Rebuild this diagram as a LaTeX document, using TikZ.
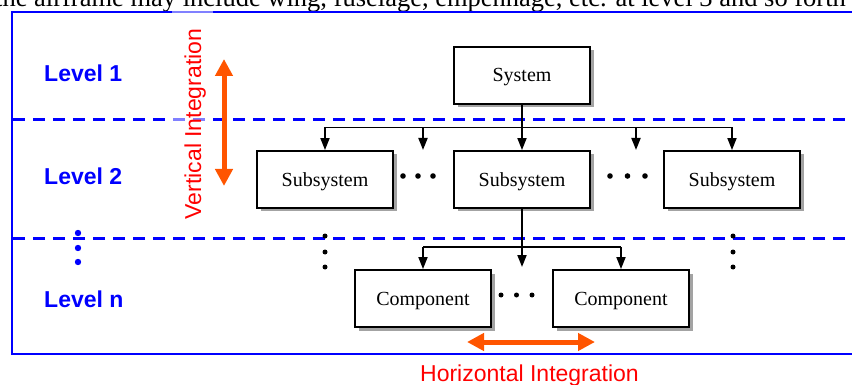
\documentclass[tikz,border=0pt]{standalone}
\usepackage{fontspec}
\setmainfont{Liberation Serif}
\newfontfamily\arialfont{Liberation Sans}
\usetikzlibrary{arrows.meta,shadows}

\definecolor{intorange}{RGB}{255,85,0}
\definecolor{intred}{RGB}{255,0,0}
\definecolor{lvlblue}{RGB}{0,0,255}

\tikzset{
  box/.style={draw=black, line width=1.9pt, fill=white,
    minimum width=136pt, minimum height=57pt, inner sep=0pt,
    text height=13pt, text depth=0pt,
    font=\fontsize{20}{24}\selectfont,
    drop shadow={shadow xshift=3.5pt, shadow yshift=-3.5pt, fill=black!45, opacity=0.8}},
  wire/.style={draw=black, line width=1.8pt},
  feed/.style={wire, -{Triangle[length=12pt,width=9pt]}},
  levelline/.style={draw=lvlblue, line width=3pt, dash pattern=on 12pt off 8pt},
  leveltext/.style={text=lvlblue, anchor=base west, inner sep=0pt,
    font=\arialfont\bfseries\fontsize{23}{27}\selectfont},
  integ/.style={draw=intorange, line width=5pt,
    {Triangle[length=17pt,width=17pt]}-{Triangle[length=17pt,width=17pt]}},
  integtext/.style={text=intred, inner sep=0pt,
    font=\arialfont\fontsize{23}{27}\selectfont},
  blackdot/.style={fill=black},
  bluedot/.style={fill=lvlblue}
}

\begin{document}
\begin{tikzpicture}[x=1pt,y=-1pt]
\useasboundingbox (0,0) rectangle (852,385);
\clip (0,0) rectangle (852,385);

% running text of the page above the figure
\node[anchor=base west, inner sep=0pt, font=\fontsize{26.5}{30}\selectfont] (caption) at (-5,7)
  {the airframe may include wing, fuselage, empennage, etc. at level 3 and so forth};

% frame and level separators
\draw[draw=lvlblue, line width=2.5pt] (12,12) rectangle (875,354);
\draw[levelline] (13,120) -- (852,120);
\draw[levelline] (13,238) -- (852,238);

% level labels
\node[leveltext] (lv1) at (44,82) {Level 1};
\node[leveltext] (lv2) at (44,185) {Level 2};
\node[leveltext] (lvn) at (44,307) {Level n};
\foreach \yy in {233,248,262} \fill[bluedot] (78,\yy) circle (3.2pt);

% vertical integration
\node[integtext, rotate=90, fill=white, fill opacity=0.5, text opacity=1,
      minimum width=220pt, minimum height=41pt] (vtext) at (192,120) {};
\node[integtext, rotate=90, anchor=base] (vlabel) at (201,124) {Vertical Integration};
\coordinate (vtop) at (224,59);
\coordinate (vbot) at (224,186);
\draw[integ] (vtop) -- (vbot);

% hierarchy boxes
\node[box] (sys)   at (522,75.5)  {System};
\node[box] (sub1)  at (325,179.5) {Subsystem};
\node[box] (sub2)  at (522,179.5) {Subsystem};
\node[box] (sub3)  at (732,179.5) {Subsystem};
\node[box] (comp1) at (423,298.5) {Component};
\node[box] (comp2) at (621,298.5) {Component};

% system to subsystems
\coordinate (bus1) at (0,127.5);
\coordinate (free1) at (423,150);
\coordinate (free2) at (636,150);
\draw[wire] (sub1.north |- bus1) -- (sub3.north |- bus1);
\draw[feed] (sys.south) -- (sub2.north);
\draw[feed] (sub1.north |- bus1) -- (sub1.north);
\draw[feed] (sub3.north |- bus1) -- (sub3.north);
\draw[feed] (free1 |- bus1) -- (free1);
\draw[feed] (free2 |- bus1) -- (free2);

% subsystem to components
\coordinate (bus2) at (0,247);
\coordinate (free3) at (sub2.south |- 0,267);
\draw[wire] (comp1.north |- bus2) -- (comp2.north |- bus2);
\draw[feed] (sub2.south) -- (free3);
\draw[feed] (comp1.north |- bus2) -- (comp1.north);
\draw[feed] (comp2.north |- bus2) -- (comp2.north);

% ellipses between boxes
\foreach \xx in {403,418,433} \fill[blackdot] (\xx,176) circle (2.8pt);
\foreach \xx in {610,627.5,645} \fill[blackdot] (\xx,176) circle (2.8pt);
\foreach \xx in {501,516.5,532} \fill[blackdot] (\xx,295) circle (2.5pt);
\foreach \yy in {236,252,267} {
  \fill[blackdot] (325,\yy) circle (2.5pt);
  \fill[blackdot] (733,\yy) circle (2.5pt);
}

% horizontal integration
\coordinate (hleft) at (467,342);
\coordinate (hright) at (595,342);
\draw[integ] (hleft) -- (hright);
\node[integtext, anchor=base] (hlabel) at (529.5,381) {Horizontal Integration};
\end{tikzpicture}
\end{document}
